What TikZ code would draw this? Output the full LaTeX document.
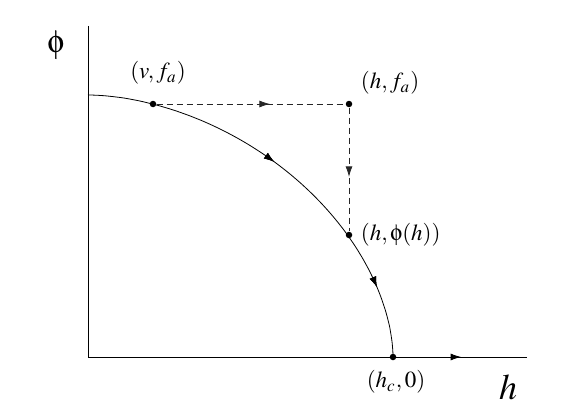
\documentclass[tikz,border=0pt]{standalone}
\usepackage{mathptmx}
\usepackage{pifont}
\usetikzlibrary{arrows.meta,decorations.markings}
\newcommand{\phiup}{\mbox{\Pisymbol{psy}{102}}}
\tikzset{
  point/.style={circle,fill=black,inner sep=0pt,minimum size=6.5pt},
  etiquette/.style={inner sep=0pt,scale=2.3},
  grande/.style={inner sep=0pt,scale=#1},
  midarrow/.style={postaction={decorate},decoration={markings,
    mark=at position #1 with {\arrow{Latex[length=10.5pt,width=7pt]}}}}
}
\begin{document}
\begin{tikzpicture}[x=1pt,y=1pt,line width=0.8pt]
            \useasboundingbox (0,0) rectangle (588,416);
            %Axes
            \coordinate (O) at (88,59);
            \coordinate (ytop) at (88,390);
            \coordinate (xend) at (527,59);
            \coordinate (top) at (88,321);
            \draw (ytop) -- (O);
            \draw[midarrow=0.85] (O) -- (xend);
            \node[grande=3.2] (phi) at (56,371) {$\phiup$};
            \node[grande=3.6] (hlab) at (508,29) {$h$};
            %Courbe
            \draw[midarrow=0.46,midarrow=0.835] (top) -- plot[domain=89.9:0.1,samples=120,variable=\t]
              ({88+305*pow(cos(\t),1.111)},{59+262*pow(sin(\t),1.111)}) -- (393,59);
            %Points
            \node[point] (vfa) at (153,312) {};
            \node[point] (hfa) at (349,312) {};
            \node[point] (hphi) at (349,181) {};
            \node[point] (hc) at (393,59) {};
            \node[etiquette] (lvfa) at (158,343) {$(v,f_a)$};
            \node[etiquette] (lhfa) at (390,333) {$(h,f_a)$};
            \node[etiquette,anchor=west] (lhphi) at (360,181) {$(h,\phiup(h))$};
            \node[etiquette] (lhc) at (396,34) {$(h_c,0)$};
            %Chemin en pointilles
            \draw[black!85,dash pattern=on 6pt off 4pt,midarrow=0.6] (vfa) -- (hfa);
            \draw[black!85,dash pattern=on 6pt off 4pt,midarrow=0.56] (hfa) -- (hphi);
        \end{tikzpicture}
\end{document}
